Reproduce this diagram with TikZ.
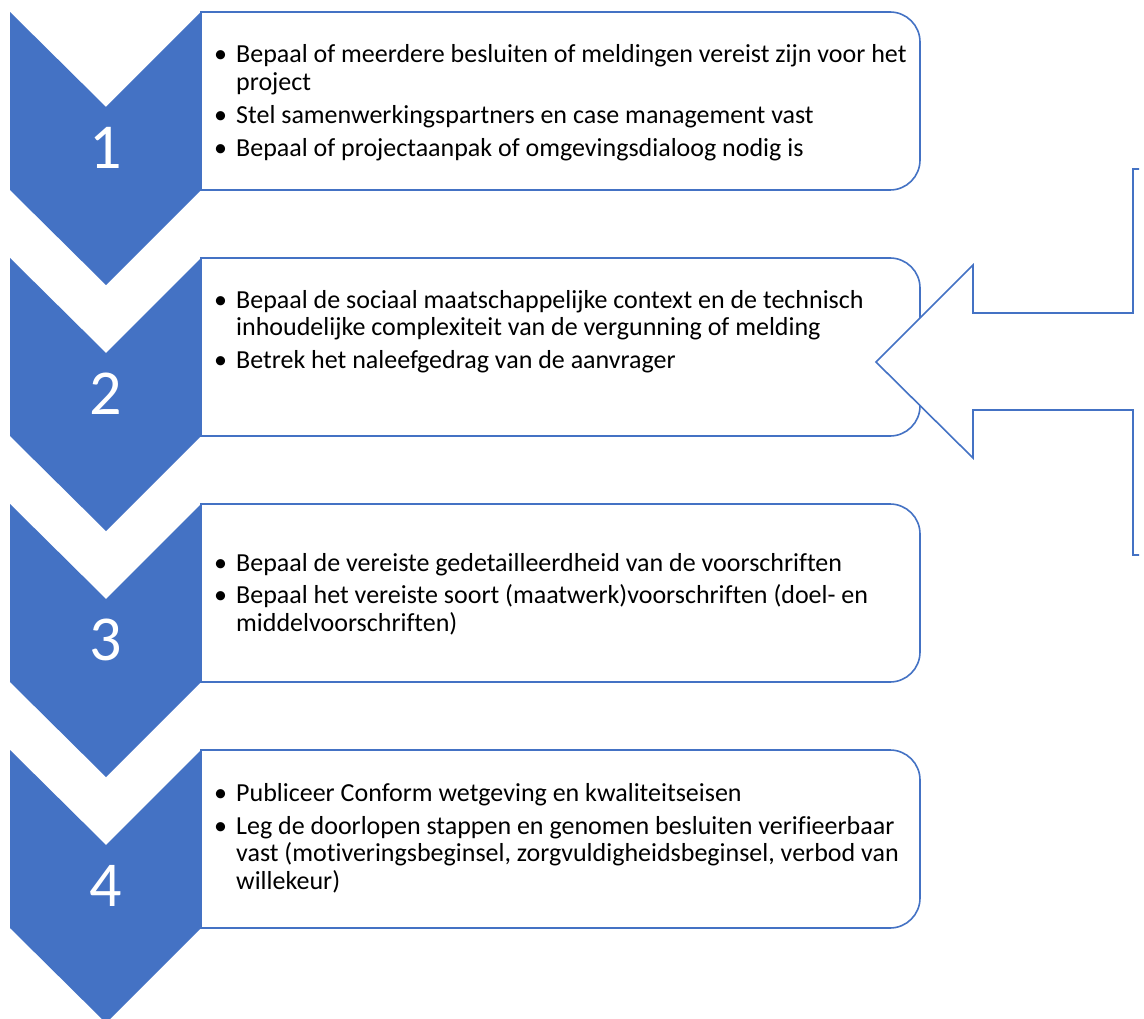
\documentclass[tikz,border=0pt]{standalone}
\usepackage{fontspec}
\setmainfont{Carlito}[Ligatures=NoCommon]
\definecolor{obl}{HTML}{4472C4}
\newcommand\bul{\makebox[22pt][l]{\textbullet}}
\newcommand\ind{\hspace*{22pt}}
\newcommand\fst{\rule{0pt}{20pt}}
\begin{document}
\begin{tikzpicture}[x=1pt,y=-1pt,
  chev/.style={fill=obl, draw=none},
  bx/.style={draw=obl, line width=1.6pt, fill=white},
  num/.style={text=white, font=\fontsize{64}{64}\selectfont, inner sep=0pt},
  txt/.style={anchor=north west, align=left, inner sep=0pt, text=black,
    font=\fontsize{26}{27.5}\selectfont}]
\clip (0,0) rectangle (1144,1019);
\fill[white] (0,0) rectangle (1144,1019);
\foreach \k in {0,1,2,3}{
  \pgfmathsetmacro\t{12+246*\k}
  \fill[chev] (10,\t) -- (106,{\t+95}) -- (201,\t) -- (201,{\t+178})
     -- (106,{\t+273}) -- (10,{\t+178}) -- cycle;
  \draw[bx] (201,\t) -- (890,\t) arc[start angle=90,end angle=0,radius=30pt]
     -- (920,{\t+148}) arc[start angle=0,end angle=-90,radius=30pt]
     -- (201,{\t+178}) -- cycle;
}
\node[num] (n1) at (106,148) {1};
\node[num] (n2) at (106,394) {2};
\node[num] (n3) at (106,640) {3};
\node[num] (n4) at (106,886) {4};

\node[txt] (t1) at (214,42.5) {\fst\bul Bepaal of meerdere besluiten of meldingen vereist zijn voor het\\
 \ind project\\[5.5pt]
 \bul Stel samenwerkingspartners en case management vast\\[5.5pt]
 \bul Bepaal of projectaanpak of omgevingsdialoog nodig is};
\node[txt] (t2) at (214,288) {\fst\bul Bepaal de sociaal maatschappelijke context en de technisch\\
 \ind inhoudelijke complexiteit van de vergunning of melding\\[5.5pt]
 \bul Betrek het naleefgedrag van de aanvrager};
\node[txt] (t3) at (214,551) {\fst\bul Bepaal de vereiste gedetailleerdheid van de voorschriften\\[5pt]
 \bul Bepaal het vereiste soort (maatwerk)voorschriften (doel- en\\
 \ind middelvoorschriften)};
\node[txt] (t4) at (214,781.7) {\fst\bul Publiceer Conform wetgeving en kwaliteitseisen\\[5pt]
 \bul Leg de doorlopen stappen en genomen besluiten verifieerbaar\\
 \ind vast (motiveringsbeginsel, zorgvuldigheidsbeginsel, verbod van\\
 \ind willekeur)};

\draw[draw=obl, line width=1.6pt, fill=white] (1139,169) -- (1133,169) -- (1133,313)
  -- (973,313) -- (973,265) -- (876,362) -- (973,458) -- (973,410)
  -- (1133,410) -- (1133,555) -- (1139,555);
\end{tikzpicture}
\end{document}
